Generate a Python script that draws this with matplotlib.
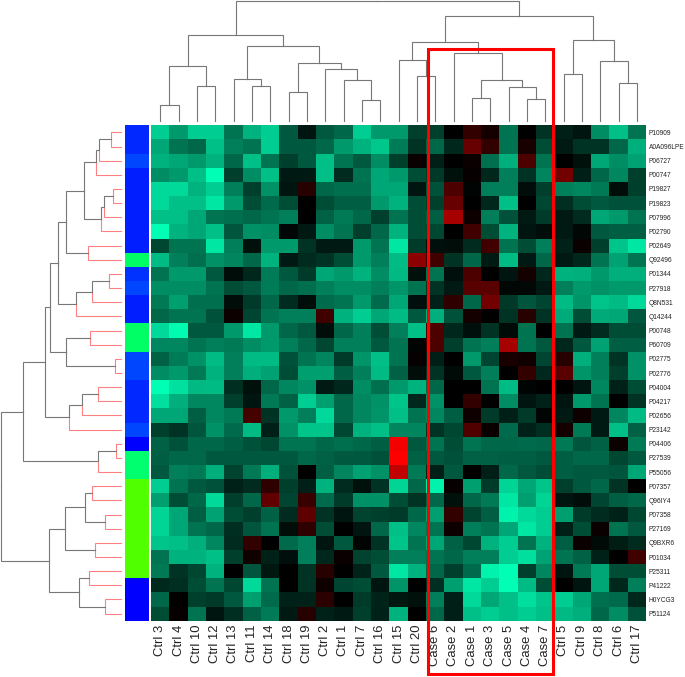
#!/usr/bin/env python3

import numpy as np
import matplotlib
matplotlib.use('Agg')
import matplotlib.pyplot as plt
from matplotlib.colors import LinearSegmentedColormap
from matplotlib.patches import Rectangle

plt.rcParams['font.family'] = ['Liberation Sans', 'DejaVu Sans']

col_labels = ['Ctrl 3', 'Ctrl 4', 'Ctrl 10', 'Ctrl 12', 'Ctrl 13', 'Ctrl 11', 'Ctrl 14', 'Ctrl 18', 'Ctrl 19',
              'Ctrl 2', 'Ctrl 1', 'Ctrl 7', 'Ctrl 16', 'Ctrl 15', 'Ctrl 20', 'Case 6', 'Case 2', 'Case 1',
              'Case 3', 'Case 5', 'Case 4', 'Case 7', 'Ctrl 5', 'Ctrl 9', 'Ctrl 8', 'Ctrl 6', 'Ctrl 17']

row_labels = ['P10909', 'A0A096LPE', 'P06727', 'P00747', 'P19827', 'P19823', 'P07996', 'P02790', 'P02649',
              'Q92496', 'P01344', 'P27918', 'Q8N531', 'Q14244', 'P00748', 'P60709', 'P02775', 'P02776',
              'P04004', 'P04217', 'P02656', 'P23142', 'P04406', 'P27539', 'P55056', 'P07357', 'Q96IY4',
              'P07358', 'P27169', 'Q9BXR6', 'P01034', 'P25311', 'P41222', 'H0YCG3', 'P51124']

# group colour of each row, top to bottom
row_colors = ['#0028ff', '#0028ff', '#0046ff', '#001eff', '#001eff', '#001eff', '#001eff', '#001eff', '#001eff',
              '#00ff64', '#0032ff', '#0046ff', '#001eff', '#001eff', '#00ff64', '#00ff64', '#0046ff', '#0046ff',
              '#0028ff', '#0028ff', '#0028ff', '#0046ff', '#0000ff', '#00ff6e', '#00ff6e', '#50ff00', '#50ff00',
              '#50ff00', '#50ff00', '#50ff00', '#50ff00', '#50ff00', '#0000ff', '#0000ff', '#0000ff']

# cell values: negative = green, positive = red
values = [
    [-8, -6, -8, -8, -4.5, -7, -8, -3.5, -0.8, -3.5, -4, -8, -6, -6, -2.5, -2.5, 0, 2, 0.8, -4.5, 0, -2, -1.2, -0.8, -5.5, -7.5, -4.5],
    [-6.5, -4.5, -4, -7.5, -5, -4.5, -8, -3.5, -3.5, -4, -6, -7, -7.8, -4.8, -2, -4, -1.5, 4, 2, -4.5, 1, -3, -1, -2, -2, -4, -6.8],
    [-7, -6.5, -6, -7, -4, -7.5, -4.5, -2.5, -3.5, -7.5, -4.5, -3.5, -5.5, -2.5, 0.4, -1.2, 0, 0.4, -4.3, -6.8, 3, -4.5, 0, -0.7, -6.5, -5.5, -6.3],
    [-5.5, -6, -7.5, -10, -2.5, -5.5, -7.5, -1, -1, -7.5, -1.7, -4.5, -6.5, -6, -3, -2.2, -0.7, 0.3, -1.5, -5, -2, -5.2, 4.5, -1.2, -4, -5.3, -2.5],
    [-8.5, -8.5, -7, -8, -5, -2.5, -5.7, -0.8, 1.5, -4, -4.3, -4.3, -6.5, -6.5, -0.8, -3.2, 3, -0.2, -5, -5, -0.5, -2.5, -5, -5.3, -4.7, -0.5, -2.5],
    [-8.5, -7.5, -7.5, -9, -6, -3, -4.2, -3, 0, -3, -3.7, -3.7, -6, -7, -3, -2.5, 4, 0, -1.5, -7.5, 0, -2.8, -1.8, -3, -3.5, -3.2, -3.2],
    [-7.5, -7.5, -6.5, -4.5, -4.3, -4, -4.5, -5, 0, -3.8, -4.7, -4, -2.5, -4.5, -3, -3.7, 6.5, 0.5, -5, -3.2, -1, -2.3, -1, -1.7, -6.5, -6, -4.5],
    [-10, -7, -6.5, -7.5, -3.3, -5.7, -5.5, -0.3, -1, -5.5, -4.5, -2.5, -4, -7, -3, -2.8, 0, 2.5, -3, -7, -0.8, -0.5, -1, -0.3, -3.5, -3.7, -3.7],
    [-2.8, -4.5, -4.5, -9, -5, -0.7, -6, -6, -2, -1, -1, -6, -4.5, -9, -2.3, -0.6, -0.5, -1.7, 2.5, -4.5, -3, -5, -1.3, 0.4, -2.5, -7.7, -9],
    [-7.3, -5, -4.3, -5.7, -5.2, -4, -7, -1, -1.7, -2, -3, -6, -5, -7.3, 5.5, 2.5, -2, -4, -1, -7.3, -1, -4, -1, -1.5, -4.5, -6.3, -4.5],
    [-4.5, -6, -6, -3.5, -0.5, -1.5, -4.8, -3.5, -2.3, -6.5, -6, -7, -5.5, -7.2, -0.7, -4.5, -0.6, 3, 0, -0.8, 0.8, -1.5, -7, -6.8, -6, -6.8, -6.8],
    [-5.5, -5.5, -5.5, -4.5, -3, -3.5, -4.8, -4, -4.3, -5, -5.5, -5.5, -5, -5.8, -4.5, -2, -1, 3.5, 3.5, -0.3, -0.3, -1, -5, -6, -5.7, -6, -6],
    [-4.7, -6.2, -4.3, -4.3, -0.5, -2.3, -4, -1.7, -0.5, -4.2, -4.5, -6, -4.2, -6.5, -0.6, -1.3, 1.8, -4, 4.5, -2.2, -3.3, -2.7, -7.3, -5.8, -7.7, -7.3, -8.5],
    [-4, -4.5, -4.5, -3.2, 0.5, -2.7, -4.5, -5, -5, 2.5, -7, -8, -6.5, -7.3, -3.5, -6.8, -3.2, 0.8, 0, -2, 1.5, -2, -6.7, -3, -6.7, -6.5, -3.4],
    [-8.5, -9.8, -3.5, -3.5, -6, -9, -6, -4, -3.5, -0.5, -4, -5, -3, -5, -7.5, 3, -1.5, -0.6, -2, -0.4, -4.5, 0, -4.5, -1, -1.7, -3, -3],
    [-5.3, -5.3, -4.5, -5, -4.7, -5.5, -6, -5, -4, -2.8, -5, -5, -3.5, -4.5, -0.2, 3, -2.5, -4.5, -5, 6.5, -4.5, -3.5, -1.5, -3.5, -6.3, -3.7, -3.7],
    [-3.8, -4.8, -5.7, -7.3, -5, -7.3, -7.3, -3.2, -4.5, -5.2, -2.3, -5.8, -7.5, -4.5, 0.3, -1.2, 0, -6, -2.7, 1, 0.7, -2.7, 1.5, -6.8, -5, -2, -5.7],
    [-5.5, -6, -4.7, -7, -5, -6.8, -6.3, -3, -6.2, -6.2, -3.7, -5, -7.3, -3.8, -0.5, -2, -0.4, -3.5, -5, 0, 2, -1.5, 3.5, -5.8, -5, -2.5, -5.7],
    [-10, -8.8, -7.2, -7.3, -1.8, -0.7, -4, -5.3, -5.7, -1, -1.5, -5.5, -4.3, -6, -7, -4, 0, 0, -4.5, -7.3, -0.2, 0, 0, -0.8, -5.3, -1.3, -3],
    [-8.7, -6.8, -5.3, -5.3, -2.5, -0.8, -4.7, -3.8, -8, -6.2, -4, -5.3, -5.7, -7.7, -1.5, -5.7, 0, 2, 0, -5.5, -0.8, -1.3, -0.8, -6, -4.5, 0, -2],
    [-6.5, -6.5, -3.7, -5.3, -4.7, 2.7, -2, -6, -5, -8.5, -4, -5.3, -5.8, -7.5, -4.5, -5.3, -3.7, 0.6, -2.3, -1.2, -2.3, -0.2, -1, 0.6, -1, -5.3, -7.3],
    [-2.5, -2, -3.3, -5.7, -4.2, -7.3, -1.2, -5.7, -7.7, -7.7, -2.8, -7, -7.5, -5.2, -5.2, -2, -2.8, 3.2, 0.4, -4.2, -1.3, -1.8, 0.8, -4.7, -1, -7.5, -3.8],
    [-3.8, -3.2, -4, -4, -3.7, -3.2, -2.8, -4.5, -4.5, -4, -4.3, -4, -3.7, 9.5, -3.5, -4.5, -3, -4.5, -4, -4, -4.2, -4, -4.7, -3.3, -3.8, 0.5, -4.7],
    [-3.7, -4, -4, -3.5, -3.5, -3.5, -3.5, -3.5, -4, -3.8, -3.5, -3.5, -3.2, 10, -3.8, -3.5, -3.2, -3.8, -3.8, -3.7, -3.7, -3.5, -3.7, -4, -4, -2.8, -3.5],
    [-3.5, -5, -4.7, -6.8, -2.6, -4.7, -6.8, -3.2, 0, -3.7, -5.2, -6.3, -5.7, 7.5, -4.7, -1.2, -3.5, 0, -1.2, -4, -3.4, -3, -3.7, -3.5, -3.5, -3.3, -6.5],
    [-8, -4.5, -3.5, -3.2, -1.3, -1.7, 1.8, -2.5, -1.2, -7, -1.7, -0.7, -2, -8.3, -4, -9.5, 0.3, -6.2, -2.3, -8.3, -6.5, -7.7, -2.5, -3.5, -4, -2, 0],
    [-6.2, -3, -4, -8.5, -2.5, -4, 3.8, -2.7, 2.2, -4.2, -2.3, -5.7, -5.7, -3, -2, -4, -0.7, -4, -4.7, -9, -6.2, -8.3, -0.8, -0.5, -2.7, -3.7, -4],
    [-8.3, -6.5, -3.7, -6.3, -3, -2.5, -3.8, -1.7, 3.7, -2, -0.8, -2.6, -2.5, -2.3, -4, -6.2, 2, -2.6, -3.7, -9.5, -8.5, -8, -6.2, -2.3, -1.7, -1.3, -2.8],
    [-8.3, -6.5, -4.5, -4, -1.8, -3.3, -4.5, -0.5, 1.8, -3, 0, -0.8, -4, -7.5, -5.3, -4.5, 0.5, -5, -4.5, -6.5, -9, -8, -1.2, -3, 0.4, -4.5, -3.5],
    [-7.7, -7.5, -6.8, -5.3, -1.7, 2, 0, -4.2, -5, -0.8, -3.5, -0.2, -2, -7.7, -4.5, -6.5, -3.8, -2.8, -7, -8, -4.5, -7, -3.7, 0.4, -0.4, -1.1, -1.7],
    [-4.5, -7, -7, -7.5, -2.5, 0.7, -1.3, -0.6, -5, -1.5, 0.4, -2.6, -3, -5, -5, -4.5, -4, -5, -5, -8, -8.7, -6.3, -4.5, -3.8, -1.3, 0, 2.5],
    [-4.7, -2, -2.8, -7, 0, -3.3, -0.9, 0, -2, 1.5, 0, -1.4, -3.5, -9, -7, -4, -2.5, -4.2, -9.5, -10, -2.5, -5.3, -0.8, -4.7, -6.5, -3, -3],
    [-1.6, -1.8, -3, -4.5, -2.8, -8.5, -4.5, 0, -2, 0.6, -2.7, -3, -0.8, -5.8, 0, -1.8, -6.2, -9, -8, -10, -7.3, -3, 0, -0.8, -6.5, -1.5, -5],
    [-4, 0, -2.5, -2.2, -3.5, -6.2, -4.2, -1.3, -1.3, 1.7, 0, -2.3, -1.4, -0.9, -0.7, -5, -1.2, -8.5, -6.5, -7.5, -8.7, -7.7, -8, -6.5, -4.3, -4.2, -1.5],
    [-3, 0.3, -4.5, -0.8, -1.8, -3.8, -4.8, -1, 1.5, -1.3, -1, -2.5, -1.3, -7, 0, -4, -1.2, -7.5, -8, -7.5, -8, -7.5, -7.2, -6.8, -4, -5.5, -3.2],
]

# dendrograms as merges (a, b, height); ids >= n are earlier merges, n + k for merge k
row_merges = [(0, 1, 9.4), (35, 2, 22), (36, 3, 24.7), (4, 5, 8), (38, 6, 16.4), (39, 7, 20), (37, 40, 37),
              (8, 9, 33), (41, 42, 54.7), (10, 11, 11.4), (44, 12, 28.4), (45, 13, 44.7), (43, 46, 63),
              (14, 15, 31), (16, 17, 5.4), (48, 49, 54.7), (47, 50, 70.4), (18, 19, 23), (52, 20, 39),
              (53, 21, 51.4), (51, 54, 75.4), (22, 23, 4.4), (56, 24, 23), (55, 57, 97.7), (25, 26, 28.7),
              (27, 28, 15.4), (59, 60, 36), (29, 30, 25.4), (61, 62, 56), (31, 32, 31.7), (33, 34, 15.4),
              (64, 65, 42), (63, 66, 71.7), (58, 67, 119.7)]

col_merges = [(0, 1, 15.4), (2, 3, 34.4), (27, 28, 54.7), (5, 6, 34.7), (4, 30, 41.4), (7, 8, 28.7),
              (11, 12, 20.4), (10, 33, 40.7), (9, 34, 51.4), (32, 35, 57.4), (31, 36, 74.4), (29, 37, 85.4),
              (14, 15, 45), (13, 39, 61), (17, 18, 23), (20, 21, 21.4), (19, 42, 33.4), (41, 43, 40.4),
              (16, 44, 67.4), (40, 45, 78.4), (22, 23, 47), (25, 26, 37.4), (24, 48, 59.4), (47, 49, 81),
              (46, 50, 104.4), (38, 51, 120)]

W, H = 685, 677
X0, X1 = 151, 646
Y0, Y1 = 125.3, 620.7
LEAF = 120.7
GREY = '#777777'
SALMON = '#ff8080'


def box(left, top, right, bottom):
    return [left / W, 1 - bottom / H, (right - left) / W, (bottom - top) / H]


def tree_segments(merges, n):
    # half brackets of every merge: (height, pos, child height, child pos, child is leaf)
    pos = {i: i + 0.5 for i in range(n)}
    hgt = {i: 0.0 for i in range(n)}
    segs = []
    for k, (a, b, h) in enumerate(merges):
        mid = (pos[a] + pos[b]) / 2
        for c in (a, b):
            segs.append((h, mid, hgt[c], pos[c], c < n))
        pos[n + k] = mid
        hgt[n + k] = h
    return segs


cmap = LinearSegmentedColormap.from_list('gbr', ['#00ffb4', '#000000', '#ff0000'])

fig = plt.figure(figsize=(W / 100, H / 100), dpi=100)

# heatmap
ax = fig.add_axes(box(X0, Y0, X1, Y1), zorder=3)
ax.pcolormesh(np.array(values), cmap=cmap, vmin=-10, vmax=10)
ax.set_xlim(0, len(col_labels))
ax.set_ylim(len(row_labels), 0)
ax.set_xticks(np.arange(len(col_labels)) + 0.5)
ax.set_xticklabels(col_labels, rotation=90, fontsize=9.4, color='#222222', va='top', ha='center')
ax.set_yticks(np.arange(len(row_labels)) + 0.5)
ax.set_yticklabels(row_labels, fontsize=4.8, color='#222222')
ax.yaxis.tick_right()
ax.tick_params(axis='y', length=0, pad=1.8)
ax.tick_params(axis='x', length=0, pad=3)
for s in ax.spines.values():
    s.set_visible(False)

# red box around the cases
ax.add_patch(Rectangle((15.09, 38.77), 6.82, -44.14, fill=False, edgecolor='#ff0000', linewidth=2.2,
                       clip_on=False, zorder=5))

# row group colours
ax_bar = fig.add_axes(box(125, Y0, 149.3, Y1))
for i, c in enumerate(row_colors):
    ax_bar.barh(i + 0.5, 1, height=1, color=c, linewidth=0)
ax_bar.set_xlim(0, 1)
ax_bar.set_ylim(len(row_labels), 0)
ax_bar.axis('off')

# row dendrogram
ax_left = fig.add_axes(box(0, Y0, LEAF, Y1))
for h, mid, ch, cp, leaf in tree_segments(row_merges, len(row_labels)):
    ax_left.plot([ch, h, h], [cp, cp, mid], color=SALMON if leaf else GREY, linewidth=0.8,
                 solid_joinstyle='miter', clip_on=False)
ax_left.set_xlim(LEAF, 0)
ax_left.set_ylim(len(row_labels), 0)
ax_left.axis('off')

# column dendrogram
ax_top = fig.add_axes(box(X0, 0, X1, LEAF))
for h, mid, ch, cp, leaf in tree_segments(col_merges, len(col_labels)):
    ax_top.plot([cp, cp, mid], [ch, h, h], color=GREY, linewidth=0.8,
                solid_joinstyle='miter', clip_on=False)
ax_top.set_xlim(0, len(col_labels))
ax_top.set_ylim(0, LEAF)
ax_top.axis('off')

fig.savefig('out.png', dpi=100)
